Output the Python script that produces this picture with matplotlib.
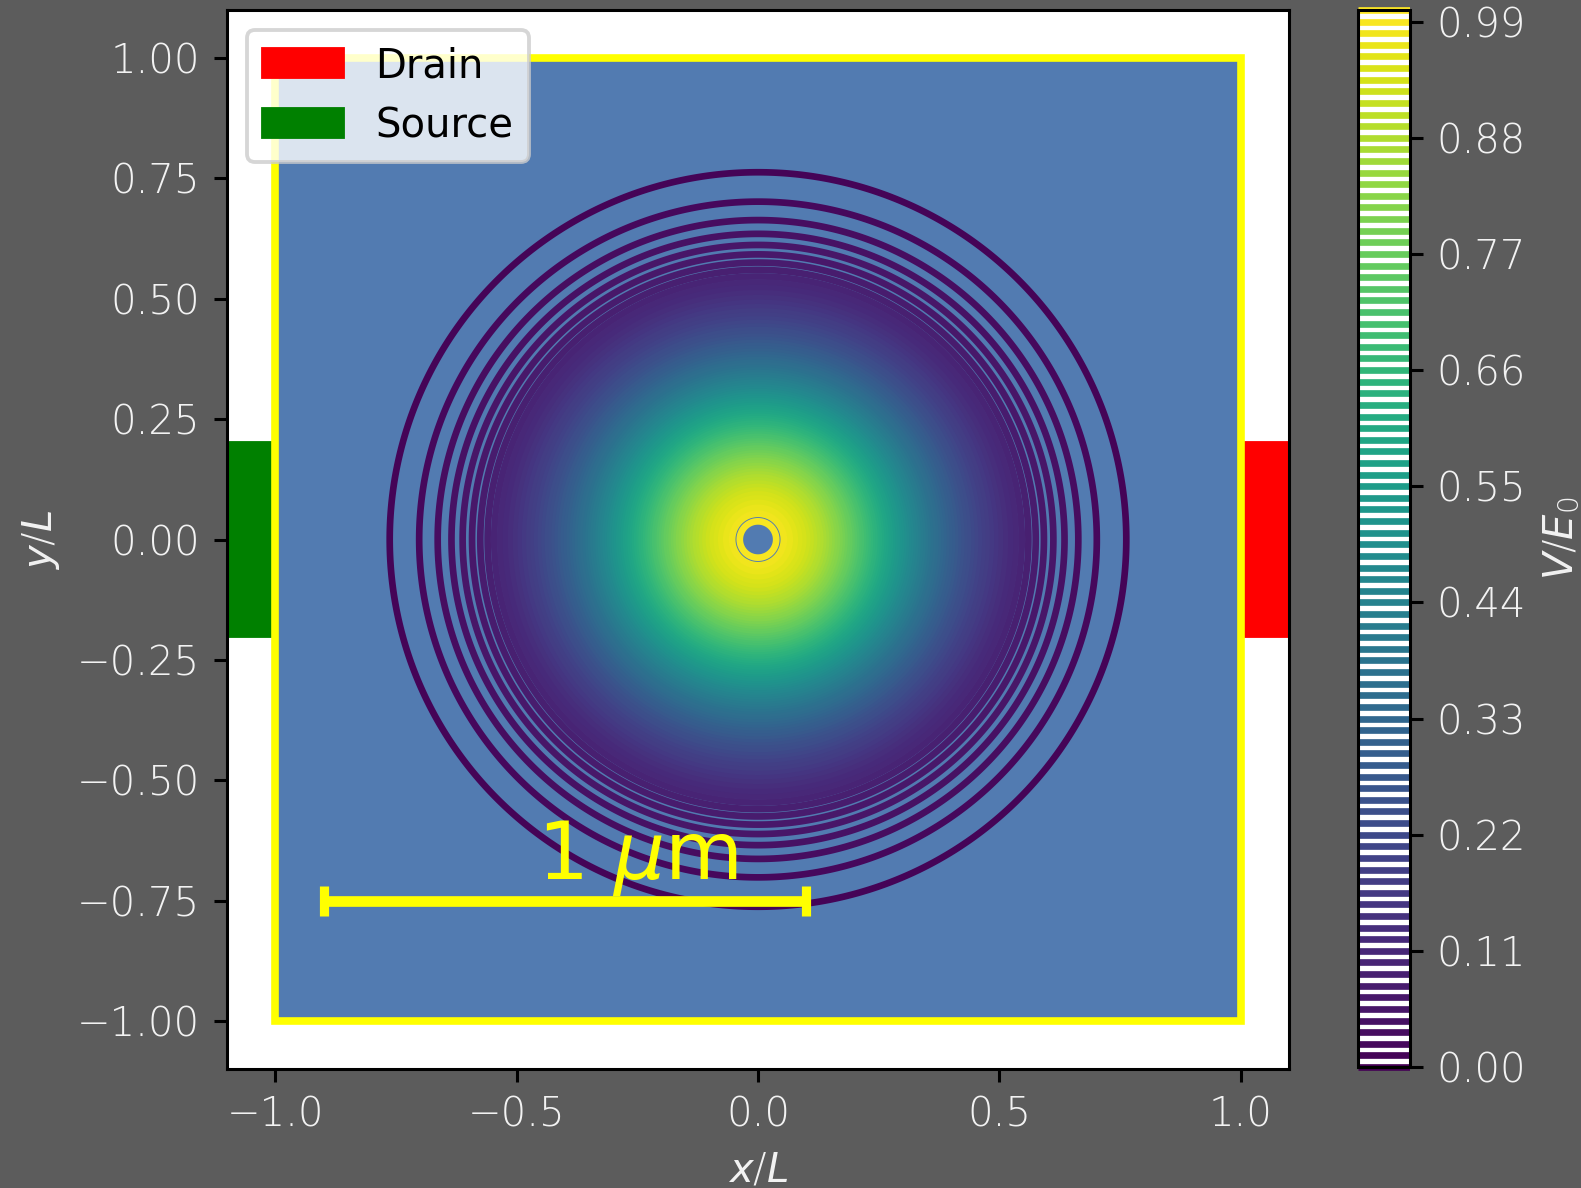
import numpy as np
import matplotlib
matplotlib.use('Agg')
import matplotlib.pyplot as plt
from matplotlib.patches import Rectangle

# potential bump (units of L and E0)
peak_value = 1.0
bump_sigma = 0.254
bump_center = (0.0, 0.0)

contour_levels = np.linspace(0, 1, 92)
cbar_ticks = contour_levels[::10]

# device geometry
device_half = 1.0
contact_y = (-0.2, 0.2)
contact_depth = 0.1
scalebar_x = (-0.9, 0.1)
scalebar_y = -0.75
scalebar_label = r'1 $\mu$m'

x_ticks = [-1.0, -0.5, 0.0, 0.5, 1.0]
y_ticks = [-1.0, -0.75, -0.5, -0.25, 0.0, 0.25, 0.5, 0.75, 1.0]

BG = '#5c5c5c'
TXT = '#f2f2f2'
DPI = 275
W, H = 1581, 1188

plt.rcParams['font.size'] = 10.5
plt.rcParams['font.weight'] = 'light'

fig = plt.figure(figsize=(W / DPI, H / DPI), dpi=DPI, facecolor=BG)
ax = fig.add_axes([227 / W, 1 - 1069 / H, 1062 / W, 1059 / H])
cax = fig.add_axes([1358 / W, 1 - 1067 / H, 52 / W, 1057 / H])

# device square
ax.add_patch(Rectangle((-device_half, -device_half), 2 * device_half, 2 * device_half,
                       facecolor='#527bb1', edgecolor='yellow', linewidth=2.0, zorder=1))

# contacts
drain = Rectangle((device_half, contact_y[0]), contact_depth, contact_y[1] - contact_y[0],
                  color='red', label='Drain', zorder=0.9)
source = Rectangle((-device_half - contact_depth, contact_y[0]), contact_depth,
                   contact_y[1] - contact_y[0], color='green', label='Source', zorder=0.9)
ax.add_patch(drain)
ax.add_patch(source)

# potential contours
grid = np.linspace(-device_half, device_half, 601)
X, Y = np.meshgrid(grid, grid)
Z = peak_value * np.exp(-((X - bump_center[0]) ** 2 + (Y - bump_center[1]) ** 2) / (2 * bump_sigma ** 2))
cs = ax.contour(X, Y, Z, levels=contour_levels, cmap='viridis', linewidths=1.75, zorder=3)

# scale bar
ax.plot(scalebar_x, [scalebar_y, scalebar_y], color='yellow', linewidth=2.8,
        marker='|', markersize=7.8, markeredgewidth=2.4, solid_capstyle='butt', zorder=5)
ax.text(np.mean(scalebar_x) + 0.15, scalebar_y + 0.045, scalebar_label, color='yellow',
        fontsize=21, fontweight='normal', ha='center', va='baseline', zorder=5)

ax.set_xlim(-1.1, 1.1)
ax.set_ylim(-1.1, 1.1)
ax.set_xticks(x_ticks)
ax.set_yticks(y_ticks)
ax.tick_params(colors='black', labelcolor=TXT)
ax.set_xlabel('$x/L$', color=TXT)
ax.set_ylabel('$y/L$', color=TXT)

ax.legend(handles=[drain, source], loc='upper left', prop={'weight': 'normal', 'size': 10.5})

cb = fig.colorbar(cs, cax=cax, ticks=cbar_ticks, format='%.2f')
cb.ax.tick_params(colors='black', labelcolor=TXT)
cb.set_label('$V/E_0$', color=TXT)

fig.savefig('out.png', dpi=DPI, facecolor=BG)
